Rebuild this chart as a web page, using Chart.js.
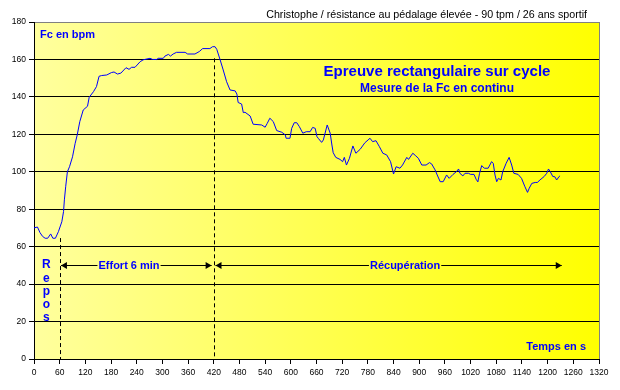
<!DOCTYPE html>
<html>
<head>
<meta charset="utf-8">
<script src="https://cdn.jsdelivr.net/npm/chart.js@4/dist/chart.umd.min.js"></script>
<style>
  body { margin: 0; background: #fff; }
  canvas { display: block; }
</style>
</head>
<body>
<canvas id="graphFc" width="620" height="390"></canvas>
<script>
// Temps en secondes
const temps = [0, 8, 14, 20, 26, 32, 39, 44, 50, 57, 65, 69, 71, 74, 78, 83, 90, 96, 101, 107,
  115, 125, 129, 139, 146, 152, 158, 170, 181, 187, 195, 203, 215, 222, 228, 236, 248, 255, 271, 277,
  287, 290, 302, 306, 314, 319, 325, 333, 353, 359, 376, 386, 394, 411, 417, 423, 427, 435, 442, 450,
  458, 470, 474, 477, 485, 489, 493, 505, 512, 532, 540, 545, 551, 559, 567, 579, 587, 589, 598, 602,
  608, 614, 620, 628, 636, 645, 651, 657, 661, 664, 672, 676, 685, 692, 696, 699, 705, 715, 721, 725,
  730, 737, 745, 752, 762, 773, 785, 791, 799, 807, 815, 824, 833, 840, 846, 855, 861, 871, 875, 885,
  892, 898, 906, 916, 924, 929, 937, 942, 949, 956, 964, 970, 979, 987, 992, 995, 1002, 1007, 1015, 1020,
  1028, 1033, 1037, 1041, 1046, 1052, 1061, 1065, 1069, 1073, 1077, 1081, 1085, 1091, 1095, 1103, 1110, 1116, 1121, 1131,
  1139, 1147, 1153, 1157, 1163, 1171, 1176, 1182, 1192, 1198, 1202, 1206, 1212, 1217, 1221, 1227, 1229];

// Fréquence cardiaque en bpm
const fc = [70, 70.5, 67.5, 65.5, 64.5, 64.5, 66.8, 64.5, 64.5, 68, 73.3, 78.7, 85, 92, 100, 102.7, 108, 115, 119.7, 126.8,
  133, 135, 139.8, 142.8, 145.5, 151, 151.4, 151.7, 153, 153.3, 152.2, 152.7, 155.6, 154.7, 155.8, 155.8, 158.8, 159.8, 160.6, 160,
  160, 160.6, 160.6, 161.8, 162.7, 161.8, 162.9, 163.8, 163.8, 162.9, 162.9, 164.2, 165.8, 165.8, 166.8, 166.8, 165.4, 159.7, 154.4, 148.1,
  143.7, 143.2, 141.5, 137, 136.2, 131.6, 131.8, 129.8, 125.4, 125, 123.8, 125.9, 128.6, 126.8, 122, 121.1, 119.7, 117.9, 117.9, 123.2,
  126.2, 126.2, 124.1, 120.6, 121.4, 121.4, 123.7, 123.2, 118.8, 117.9, 115.7, 117, 125, 120.6, 114.3, 110.2, 107.7, 106.6, 105.4, 107.7,
  103.6, 107.2, 113.8, 109.9, 112, 115.5, 117.9, 116.1, 116.6, 113.4, 109.9, 109, 105.4, 98.8, 102.7, 101.9, 103.6, 107.7, 106.6, 109.9,
  108.5, 107.2, 103.6, 103.6, 104.9, 104.2, 101, 98.3, 94.7, 94.7, 98.3, 96.5, 98.6, 100.1, 101.5, 99.2, 97.8, 99.2, 99.2, 98.6,
  98.6, 96, 94.6, 99.2, 103.3, 101.9, 101.9, 103.6, 105.4, 104.5, 98.3, 94.7, 96.5, 95.6, 100, 104.5, 107.7, 103.6, 99.2, 98.6,
  96.5, 92, 89, 91.2, 93.8, 94.3, 94.3, 95.6, 97.5, 99.2, 101.5, 100.1, 97.5, 97.3, 95.6, 97.5, 97.8];

// Graduations : min, max, pas
const ticksX = [0, 1320, 60];
const ticksY = [0, 180, 20];

const titre = 'Christophe / résistance au pédalage élevée - 90 tpm / 26 ans sportif';
const bleu = '#0000FF';
const police = '"Liberation Sans", Arial, sans-serif';

function degrade(ctx, a) {
  const g = ctx.createLinearGradient(a.left, 0, a.right, 0);
  g.addColorStop(0, '#FFFF9E');
  g.addColorStop(1, '#FFFF00');
  return g;
}

// Fond dégradé jaune de la zone de tracé
const fondJaune = {
  id: 'fondJaune',
  beforeDraw(chart) {
    const { ctx, chartArea: a } = chart;
    ctx.save();
    ctx.fillStyle = degrade(ctx, a);
    ctx.fillRect(a.left, a.top, a.right - a.left, a.bottom - a.top);
    ctx.restore();
  }
};

function fleche(ctx, x, y, dir) {
  ctx.beginPath();
  ctx.moveTo(x, y);
  ctx.lineTo(x - dir * 6, y - 3.5);
  ctx.lineTo(x - dir * 6, y + 3.5);
  ctx.closePath();
  ctx.fill();
}

// Textes, pointillés et flèches
const annotations = {
  id: 'annotations',
  afterDatasetsDraw(chart) {
    const { ctx, chartArea: a, scales } = chart;
    const X = v => scales.x.getPixelForValue(v);
    const Y = v => scales.y.getPixelForValue(v);
    ctx.save();

    // bord droit gris
    ctx.strokeStyle = '#808080';
    ctx.lineWidth = 1;
    ctx.beginPath();
    ctx.moveTo(Math.round(a.right) + 0.5, a.top);
    ctx.lineTo(Math.round(a.right) + 0.5, a.bottom);
    ctx.stroke();

    // lignes verticales pointillées
    ctx.strokeStyle = '#000';
    ctx.setLineDash([4, 3]);
    [[60, 64.6], [420, 160.6]].forEach(([t, haut]) => {
      const px = Math.round(X(t)) + 0.5;
      ctx.beginPath();
      ctx.moveTo(px, Y(haut));
      ctx.lineTo(px, a.bottom);
      ctx.stroke();
    });
    ctx.setLineDash([]);

    // flèches
    const yf = Math.round(Y(50)) + 0.5;
    ctx.fillStyle = '#000';
    [[63, 415], [424, 1233]].forEach(([t1, t2]) => {
      ctx.beginPath();
      ctx.moveTo(X(t1), yf);
      ctx.lineTo(X(t2), yf);
      ctx.stroke();
      fleche(ctx, X(t1), yf, -1);
      fleche(ctx, X(t2), yf, 1);
    });

    // textes bleus
    ctx.textBaseline = 'middle';
    ctx.textAlign = 'center';
    ctx.font = 'bold 11px ' + police;
    [['Effort 6 min', 222], ['Récupération', 867]].forEach(([txt, t]) => {
      const w = ctx.measureText(txt).width;
      ctx.fillStyle = degrade(ctx, a);
      ctx.fillRect(X(t) - w / 2 - 1, yf - 3, w + 2, 6);
      ctx.fillStyle = bleu;
      ctx.fillText(txt, X(t), yf);
    });

    ctx.font = 'bold 12px ' + police;
    [['R', 50.4], ['e', 42.9], ['p', 35.8], ['o', 29.1], ['s', 22.1]].forEach(([c, v]) => {
      ctx.fillText(c, X(29), Y(v));
    });

    ctx.textAlign = 'left';
    ctx.font = 'bold 11px ' + police;
    ctx.fillText('Fc en bpm', 40, 35);
    ctx.textAlign = 'right';
    ctx.fillText('Temps en s', 586, 347);

    ctx.textAlign = 'center';
    ctx.font = 'bold 15px ' + police;
    ctx.fillText('Epreuve rectangulaire sur cycle', 437, 72);
    ctx.font = 'bold 12px ' + police;
    ctx.fillText('Mesure de la Fc en continu', 437, 89);

    // titre en haut
    ctx.fillStyle = '#000';
    ctx.textAlign = 'right';
    ctx.textBaseline = 'alphabetic';
    ctx.font = '10.7px ' + police;
    ctx.fillText(titre, 587, 18);
    ctx.restore();
  }
};

new Chart(document.getElementById('graphFc'), {
  type: 'line',
  data: {
    datasets: [{
      label: 'Fc',
      data: temps.map((t, i) => ({ x: t, y: fc[i] })),
      borderColor: bleu,
      borderWidth: 1,
      pointRadius: 0,
      tension: 0,
      fill: false
    }]
  },
  options: {
    responsive: false,
    devicePixelRatio: 1,
    animation: false,
    layout: { padding: { top: 22, right: 21, left: 0, bottom: 0 } },
    plugins: { legend: { display: false }, tooltip: { enabled: false } },
    scales: {
      x: {
        type: 'linear',
        min: ticksX[0], max: ticksX[1],
        afterFit: s => { s.height = 31; },
        ticks: {
          stepSize: ticksX[2], maxRotation: 0, autoSkip: false, color: '#000',
          font: { family: police, size: 8.5 }, padding: 4,
          callback: v => String(v)
        },
        grid: { drawOnChartArea: false, tickColor: '#000', tickLength: 5 },
        border: { color: '#000', width: 1 }
      },
      y: {
        min: ticksY[0], max: ticksY[1],
        afterFit: s => { s.width = 34; },
        ticks: {
          stepSize: ticksY[2], color: '#000', font: { family: police, size: 8.5 }, padding: 3,
          callback: v => String(v)
        },
        grid: {
          color: c => (c.tick && c.tick.value === ticksY[1]) ? '#808080' : '#000',
          tickColor: '#000', tickLength: 5, lineWidth: 1
        },
        border: { color: '#000', width: 1 }
      }
    }
  },
  plugins: [fondJaune, annotations]
});
</script>
</body>
</html>
